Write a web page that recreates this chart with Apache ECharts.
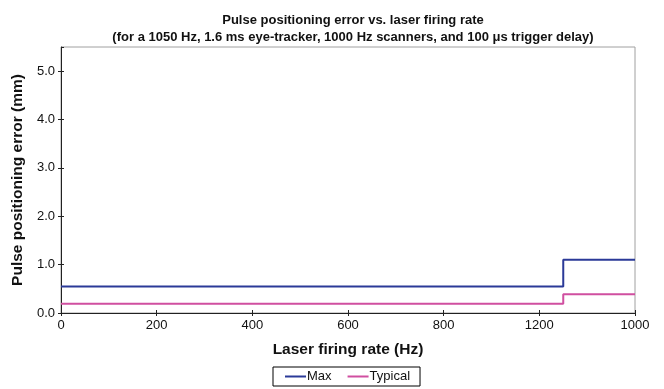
<!DOCTYPE html>
<html>
<head>
<meta charset="utf-8">
<script src="https://cdn.jsdelivr.net/npm/echarts@6/dist/echarts.min.js"></script>
<style>html,body{margin:0;padding:0;background:#fff}#c{width:664px;height:389px}</style>
</head>
<body>
<div id="c"></div>
<script>
// Breakpoints of the step curves (laser firing rate, Hz)
var stepRates = [0, 1050, 1200];
var maxErr = [0.55, 1.10, 1.10];
var typicalErr = [0.19, 0.39, 0.39];
// Tick labels exactly as printed on the original x axis
var xTickLabels = ['0', '200', '400', '600', '800', '1200', '1000'];
var yTickStep = 1;

function pairs(xs, ys) { return xs.map(function (x, i) { return [x, ys[i]]; }); }

var FONT = '"Liberation Sans", Arial, sans-serif';
var chart = echarts.init(document.getElementById('c'));
chart.setOption({
  animation: false,
  textStyle: { fontFamily: FONT },
  title: {
    text: 'Pulse positioning error vs. laser firing rate\n(for a 1050 Hz, 1.6 ms eye-tracker, 1000 Hz scanners, and 100 \u03bcs trigger delay)',
    left: 348, top: 7, textAlign: 'center',
    textStyle: { fontSize: 13, fontWeight: 'bold', color: '#111', lineHeight: 17, fontFamily: FONT }
  },
  grid: { left: 61, right: 29, top: 47, bottom: 76, show: true, borderColor: '#a0a0a0', borderWidth: 1 },
  legend: {
    left: 273, top: 367, orient: 'horizontal',
    borderColor: '#000', borderWidth: 1, padding: [3, 10, 3, 12],
    itemWidth: 21, itemHeight: 2, itemGap: 16, icon: 'rect',
    textStyle: { fontSize: 13, color: '#111', fontFamily: FONT, padding: [0, 0, 0, -4] },
    data: ['Max', 'Typical']
  },
  xAxis: [{
    type: 'value', min: 0, max: 1200, interval: 200,
    name: 'Laser firing rate (Hz)', nameLocation: 'middle', nameGap: 29,
    nameTextStyle: { fontSize: 15.5, fontWeight: 'bold', color: '#111', fontFamily: FONT },
    axisLine: { show: true, lineStyle: { color: '#222', width: 1 } },
    axisTick: { show: true, length: 3, lineStyle: { color: '#222' } },
    axisLabel: { fontSize: 13, color: '#111', margin: 6, fontFamily: FONT,
      formatter: function (v) { return xTickLabels[Math.round(v / 200)]; } },
    splitLine: { show: false }
  }, {
    type: 'value', min: 0, max: 1200, interval: 200, position: 'bottom',
    axisLine: { show: false },
    axisTick: { show: true, inside: true, length: 3, lineStyle: { color: '#222' } },
    axisLabel: { show: false }, splitLine: { show: false }
  }],
  yAxis: [{
    type: 'value', min: 0, max: 5.5, interval: yTickStep,
    name: 'Pulse positioning error (mm)', nameLocation: 'middle', nameGap: 29,
    nameTextStyle: { fontSize: 15.5, fontWeight: 'bold', color: '#111', fontFamily: FONT },
    axisLine: { show: true, lineStyle: { color: '#222', width: 1 } },
    axisTick: { show: true, length: 3, lineStyle: { color: '#222' } },
    axisLabel: { fontSize: 13, color: '#111', margin: 6, showMaxLabel: false, fontFamily: FONT,
      formatter: function (v) { return v.toFixed(1); } },
    splitLine: { show: false }
  }, {
    type: 'value', min: 0, max: 5.5, interval: yTickStep, position: 'left',
    axisLine: { show: false },
    axisTick: { show: true, inside: true, length: 3, lineStyle: { color: '#222' } },
    axisLabel: { show: false }, splitLine: { show: false }
  }],
  series: [{
    name: 'Max', type: 'line', step: 'end', showSymbol: false, symbol: 'none',
    color: '#2b3a98', lineStyle: { width: 2, color: '#2b3a98' },
    data: pairs(stepRates, maxErr)
  }, {
    name: 'Typical', type: 'line', step: 'end', showSymbol: false, symbol: 'none',
    color: '#d04fa0', lineStyle: { width: 2, color: '#d04fa0' },
    data: pairs(stepRates, typicalErr)
  }]
});
</script>
</body>
</html>
